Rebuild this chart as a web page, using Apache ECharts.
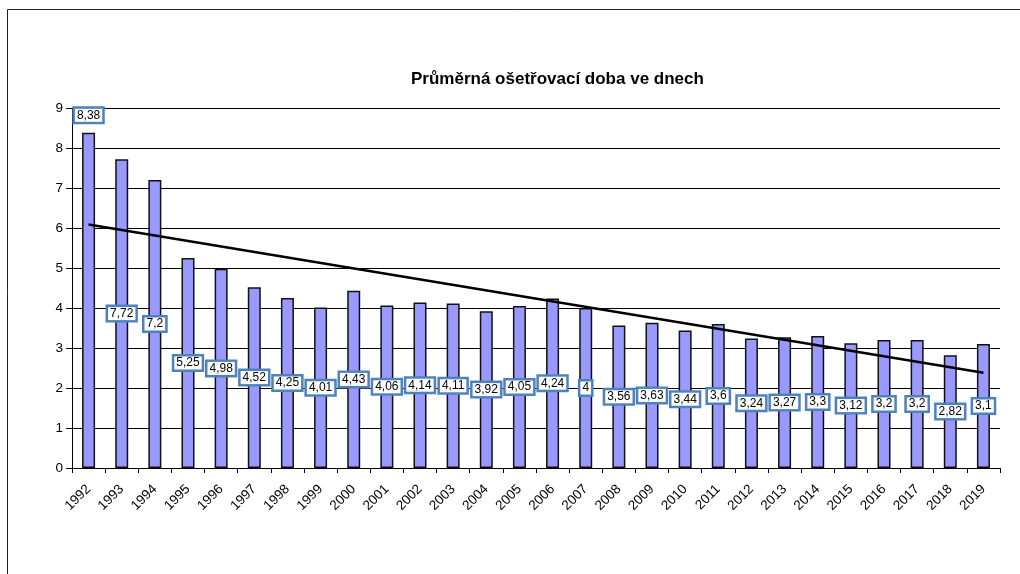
<!DOCTYPE html>
<html>
<head>
<meta charset="utf-8">
<script src="https://cdn.jsdelivr.net/npm/echarts@6/dist/echarts.min.js"></script>
<style>
html,body{margin:0;padding:0;background:#fff;}
#chart{width:1020px;height:574px;}
</style>
</head>
<body>
<div id="chart"></div>
<script>
const titleText = 'Průměrná ošetřovací doba ve dnech';
const years = ['1992','1993','1994','1995','1996','1997','1998','1999','2000','2001','2002','2003','2004','2005','2006','2007','2008','2009','2010','2011','2012','2013','2014','2015','2016','2017','2018','2019'];
const values = [8.38,7.72,7.2,5.25,4.98,4.52,4.25,4.01,4.43,4.06,4.14,4.11,3.92,4.05,4.24,4,3.56,3.63,3.44,3.6,3.24,3.27,3.3,3.12,3.2,3.2,2.82,3.1];
const trendStart = ['1992', 6.09];
const trendEnd = ['2019', 2.38];
const yTicks = [0,1,2,3,4,5,6,7,8,9];

const FONT = '"Liberation Sans", Arial, sans-serif';
const chart = echarts.init(document.getElementById('chart'), null, {renderer:'canvas'});

const barData = values.map((v, i) => {
  const item = {value: v};
  if (i === 0) {
    item.label = {position: 'top', distance: 11};
  }
  return item;
});

chart.setOption({
  animation: false,
  backgroundColor: '#fff',
  graphic: [{
    type: 'rect',
    shape: {x: 7.5, y: 9.5, width: 1040, height: 600},
    style: {fill: 'none', stroke: '#222', lineWidth: 1}
  }],
  title: {
    text: titleText,
    left: 406,
    top: 66,
    textStyle: {fontFamily: FONT, fontSize: 17, fontWeight: 'bold', color: '#000'}
  },
  grid: {left: 72, right: 20, top: 108, bottom: 106, containLabel: false},
  xAxis: {
    type: 'category',
    data: years,
    boundaryGap: true,
    axisLine: {lineStyle: {color: '#000', width: 1}},
    axisTick: {show: true, length: 5, lineStyle: {color: '#000'}},
    axisLabel: {rotate: 45, fontFamily: FONT, fontSize: 13.5, color: '#000', interval: 0, margin: 19}
  },
  yAxis: {
    type: 'value',
    min: yTicks[0],
    max: yTicks[yTicks.length - 1],
    interval: 1,
    axisLine: {show: true, lineStyle: {color: '#000', width: 1}},
    axisTick: {show: true, length: 6, lineStyle: {color: '#000'}},
    axisLabel: {fontFamily: FONT, fontSize: 13.5, color: '#000', margin: 9},
    splitLine: {show: true, lineStyle: {color: '#000', width: 1}}
  },
  series: [{
    type: 'bar',
    data: barData,
    barWidth: 13,
    itemStyle: {color: '#9999FF', borderColor: '#111', borderWidth: 1.5},
    label: {
      show: true,
      position: 'inside',
      formatter: p => String(p.value).replace('.', ','),
      fontFamily: FONT,
      fontSize: 12,
      color: '#000',
      backgroundColor: '#fff',
      borderColor: '#4F81BD',
      borderWidth: 2.5,
      padding: [1, 2, 0, 2]
    },
    markLine: {
      silent: true,
      symbol: 'none',
      label: {show: false},
      lineStyle: {color: '#000', width: 2.5, type: 'solid'},
      data: [[
        {coord: trendStart},
        {coord: trendEnd}
      ]]
    }
  }]
});
</script>
</body>
</html>
